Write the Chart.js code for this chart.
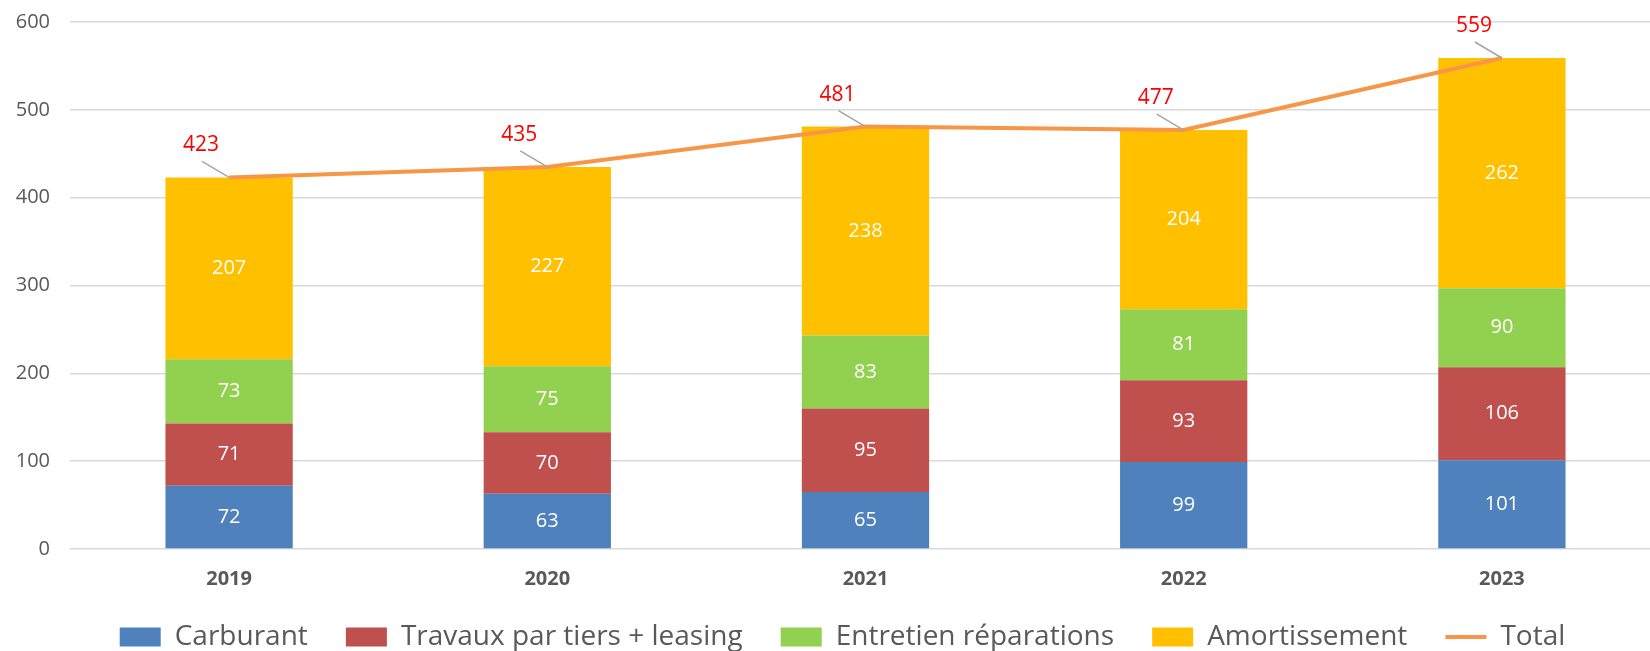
<!DOCTYPE html>
<html>
<head>
<meta charset="utf-8">
<script src="https://cdn.jsdelivr.net/npm/chart.js@4.4.1/dist/chart.umd.min.js"></script>
<style>
  html, body { margin: 0; padding: 0; background: #fff; overflow: hidden; }
  /* la zone de tracé déborde de ~11 px à droite dans l'original : canvas un peu plus large, coupé */
  #wrap { width: 1650px; height: 651px; overflow: hidden; }
</style>
</head>
<body>
<div id="wrap"><canvas id="coutChart" width="1661" height="651"></canvas></div>
<script>
// valeurs
const years = ["2019", "2020", "2021", "2022", "2023"];
const carburant = [72, 63, 65, 99, 101];
const travaux = [71, 70, 95, 93, 106];
const entretien = [73, 75, 83, 81, 90];
const amortissement = [207, 227, 238, 204, 262];
const total = [423, 435, 481, 477, 559];
const yTicks = [0, 100, 200, 300, 400, 500, 600];

const FONT = "'Open Sans', 'DejaVu Sans', sans-serif";

// étiquettes de données (valeurs dans les barres + total en rouge avec trait de rappel)
const labelsPlugin = {
  id: "valueLabels",
  afterLayout(chart) {
    // légende un peu décalée vers la droite dans l'original
    chart.legend.left += 12;
    chart.legend.right += 12;
  },
  afterDatasetsDraw(chart) {
    const ctx = chart.ctx;
    ctx.save();
    ctx.textAlign = "center";
    ctx.textBaseline = "middle";
    chart.data.datasets.forEach((ds, di) => {
      const meta = chart.getDatasetMeta(di);
      if (meta.hidden) return;
      meta.data.forEach((el, i) => {
        const v = ds.data[i];
        if (ds.type === "line") {
          ctx.strokeStyle = "#a6a6a6";
          ctx.lineWidth = 1.5;
          ctx.beginPath();
          ctx.moveTo(el.x, el.y);
          ctx.lineTo(el.x - 27, el.y - 16);
          ctx.stroke();
          ctx.fillStyle = "#ff0000";
          ctx.font = "21px " + FONT;
          ctx.fillText(String(v), el.x - 28, el.y - 32);
        } else {
          ctx.fillStyle = "#ffffff";
          ctx.font = "20px " + FONT;
          ctx.fillText(String(v), el.x, (el.y + el.base) / 2);
        }
      });
    });
    ctx.restore();
  },
};

new Chart(document.getElementById("coutChart"), {
  data: {
    labels: years,
    datasets: [
      { type: "bar", label: "Carburant", data: carburant, backgroundColor: "#4f81bd", order: 1 },
      { type: "bar", label: "Travaux par tiers + leasing", data: travaux, backgroundColor: "#c0504d", order: 1 },
      { type: "bar", label: "Entretien réparations", data: entretien, backgroundColor: "#92d050", order: 1 },
      { type: "bar", label: "Amortissement", data: amortissement, backgroundColor: "#ffc000", order: 1 },
      {
        type: "line",
        label: "Total",
        data: total,
        stack: "total",
        borderColor: "#f79646",
        backgroundColor: "#f79646",
        borderWidth: 4,
        pointRadius: 0,
        tension: 0,
        order: 0,
      },
    ],
  },
  options: {
    responsive: false,
    animation: false,
    layout: { padding: { top: 22, right: 0, left: 0, bottom: -10 } },
    datasets: {
      bar: { barPercentage: 1, categoryPercentage: 0.4 },
    },
    plugins: {
      tooltip: { enabled: false },
      legend: {
        position: "bottom",
        labels: {
          font: { family: FONT, size: 28 },
          color: "#595959",
          usePointStyle: true,
          pointStyleWidth: 41,
          boxHeight: 19,
          padding: 9,
          generateLabels(chart) {
            const n = chart.data.datasets.length;
            return chart.data.datasets.map((ds, i) => ({
              // espaces en fin de texte pour écarter les entrées sans grossir la légende
              text: i < n - 1 ? ds.label + "    " : ds.label,
              fillStyle: ds.backgroundColor,
              strokeStyle: ds.type === "line" ? ds.borderColor : ds.backgroundColor,
              lineWidth: ds.type === "line" ? 4 : 0,
              pointStyle: ds.type === "line" ? "line" : "rect",
              fontColor: "#595959",
              datasetIndex: i,
              hidden: false,
            }));
          },
        },
      },
    },
    scales: {
      x: {
        stacked: true,
        grid: { display: false, drawTicks: false },
        border: { display: false },
        ticks: {
          font: { family: FONT, size: 20, weight: "bold" },
          color: "#595959",
          padding: 18,
        },
        afterFit(axis) {
          axis.height = 65;
        },
      },
      y: {
        stacked: true,
        min: 0,
        max: 600,
        afterBuildTicks(axis) {
          axis.ticks = yTicks.map((v) => ({ value: v }));
        },
        afterFit(axis) {
          axis.width = 70;
          axis.paddingTop = 0;
          axis.paddingBottom = 0;
        },
        grid: { color: "#d9d9d9", lineWidth: 1.5, drawTicks: false },
        border: { display: false },
        ticks: {
          font: { family: FONT, size: 20 },
          color: "#595959",
          padding: 20,
        },
      },
    },
  },
  plugins: [labelsPlugin],
});
</script>
</body>
</html>
